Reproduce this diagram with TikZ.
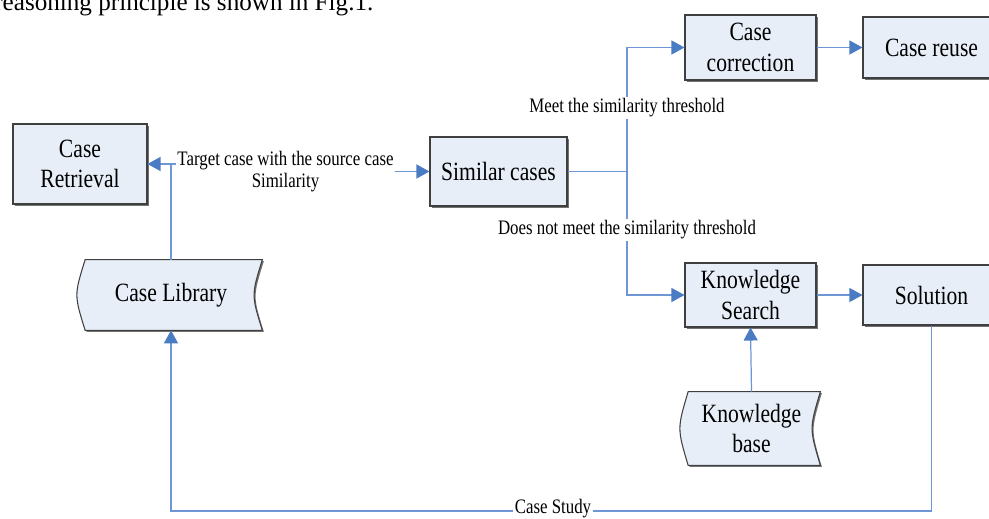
\documentclass[tikz,border=0pt]{standalone}
\usepackage{fontspec}
\setmainfont{Liberation Serif}[FakeStretch=0.82]
\newfontfamily\bodyfont{Liberation Serif}
\usepackage{tikz}
\usetikzlibrary{arrows.meta,calc,backgrounds,shadows}
\definecolor{boxfill}{HTML}{E8EEF8}
\definecolor{boxline}{HTML}{3F3F3F}
\definecolor{flowblue}{HTML}{6F96D4}
\definecolor{tipblue}{HTML}{4A7CC4}
\newcommand{\boxfont}{\fontsize{15}{17.5}\selectfont}
\newcommand{\lblfont}{\fontsize{11.7}{12.5}\selectfont}
\tikzset{
  procbox/.style={draw=boxline, fill=boxfill, line width=0.6pt, align=center, font=\boxfont, inner sep=0pt,
    drop shadow={shadow xshift=0.03cm, shadow yshift=-0.03cm, opacity=1, fill=black!55}},
  storetext/.style={align=center, font=\boxfont, inner sep=0pt},
  storeshape/.style={draw=boxline, fill=boxfill, line width=0.6pt,
    drop shadow={shadow xshift=0.03cm, shadow yshift=-0.03cm, opacity=1, fill=black!55}},
  flowpath/.style={draw=flowblue, line width=0.7pt},
  flowarrow/.style={flowpath, -{Triangle[length=0.26cm,width=0.28cm,color=tipblue]}},
  lbl/.style={fill=white, font=\lblfont, inner sep=1pt, align=center}
}

\begin{document}
\begin{tikzpicture}[x=1cm,y=1cm]
  \useasboundingbox (0,0) rectangle (19.78,-10.36);
  \node[anchor=base west, font=\bodyfont\fontsize{14.3}{17}\selectfont, inner sep=0pt] (intro) at (-0.12,-0.21) {reasoning principle is shown in Fig.1.};
  % boxes
  \node[procbox, minimum width=2.68cm, minimum height=1.60cm] (ret) at (1.60,-3.28) {Case\\Retrieval};
  \node[procbox, minimum width=2.74cm, minimum height=1.38cm] (sim) at (9.97,-3.43) {Similar cases};
  \node[procbox, minimum width=2.62cm, minimum height=1.30cm] (corr) at (15.01,-0.95) {Case\\correction};
  \node[procbox, minimum width=2.74cm, minimum height=1.22cm] (reuse) at (18.63,-0.95) {Case reuse};
  \node[procbox, minimum width=2.62cm, minimum height=1.28cm] (ks) at (15.01,-5.90) {Knowledge\\Search};
  \node[procbox, minimum width=2.74cm, minimum height=1.20cm] (sol) at (18.63,-5.90) {Solution};
  \node[storetext, minimum width=3.64cm, minimum height=1.40cm] (lib) at (3.42,-5.90) {Case Library};
  \node[storetext, minimum width=2.74cm, minimum height=1.46cm] (kb) at (15.03,-8.57) {Knowledge\\base};
  \begin{scope}[on background layer]
    \foreach \s in {lib,kb} {
      \filldraw[storeshape] ($(\s.north west)+(0.11,0)$) -- (\s.north east)
        .. controls ($(\s.east)+(-0.22,0)$) .. (\s.south east)
        -- ($(\s.south west)+(0.11,0)$)
        .. controls ($(\s.west)+(-0.11,0)$) .. cycle;
    }
  \end{scope}
  % connectors
  \coordinate (jog) at (5.71,-3.43);
  \coordinate (fork) at (12.54,-3.43);
  \draw[flowarrow] (ret.east) -| (jog) -- (sim.west);
  \draw[flowarrow] (lib.north) |- (ret.east);
  \draw[flowpath] (sim.east) -- (fork);
  \draw[flowarrow] (fork) |- (corr.west);
  \draw[flowarrow] (fork) |- (ks.west);
  \draw[flowarrow] (corr.east) -- (reuse.west);
  \draw[flowarrow] (ks.east) -- (sol.west);
  \draw[flowarrow] (kb.north) -- (ks.south);
  \coordinate (turn) at ($(sol.south)+(0,-3.71)$);
  \draw[flowarrow] (sol.south) -- (turn) -| (lib.south);
  % labels
  \node[lbl] (target) at (5.71,-3.44) {Target case with the source case\\Similarity};
  \node[lbl] (meet) at (12.54,-2.16) {Meet the similarity threshold};
  \node[lbl] (notmeet) at (12.54,-4.60) {Does not meet the similarity threshold};
  \node[lbl] (study) at (11.06,-10.17) {Case Study};
\end{tikzpicture}
\end{document}
